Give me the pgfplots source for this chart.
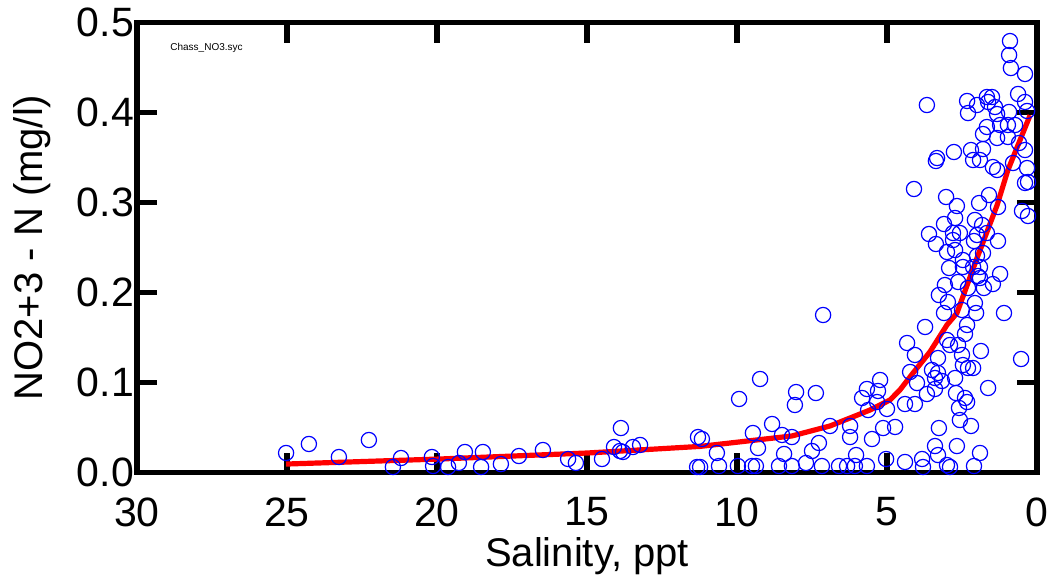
\documentclass[border=0pt]{standalone}
\usepackage{fontspec}
\setmainfont{Liberation Sans}
\usepackage{pgfplots}
\pgfplotsset{compat=1.18}
\begin{document}
\begin{tikzpicture}
\begin{axis}[
  at={(0,0)}, anchor=south west,
  scale only axis, width=450pt, height=225pt,
  x dir=reverse,
  xmin=0, xmax=30, ymin=0, ymax=0.5,
  xtick={0,5,...,30}, ytick={0,0.1,...,0.5},
  yticklabel style={/pgf/number format/fixed, /pgf/number format/fixed zerofill, /pgf/number format/precision=1, xshift=2pt},
  /pgf/number format/assume math mode=true,
  tick align=inside, xtick pos=both, ytick pos=both,
  major tick length=10pt,
  every tick/.style={black, line width=2.8pt},
  axis line style={line width=2.6pt},
  tick label style={font=\fontsize{20.5}{24}\selectfont},
  xticklabel style={yshift=-9pt},
  label style={font=\fontsize{20}{24}\selectfont},
  xlabel={Salinity, ppt},
  ylabel={NO2+3 - N (mg/l)},
  xlabel style={yshift=1.5pt},
  ylabel style={yshift=6pt},
  clip=false,
]
\addplot[only marks, mark=o, mark size=3.8pt, blue, mark options={line width=0.6pt}] table {
x y
25.03 0.0217
24.27 0.0317
23.27 0.0172
22.27 0.0361
21.20 0.0161
21.47 0.0061
20.17 0.0172
20.13 0.0072
19.63 0.0061
19.27 0.0106
19.07 0.0228
18.53 0.0061
18.47 0.0228
17.87 0.0094
17.27 0.0183
16.47 0.0250
15.63 0.0150
15.37 0.0106
14.50 0.0150
14.10 0.0283
13.87 0.0494
13.90 0.0239
13.80 0.0228
13.47 0.0283
13.23 0.0306
11.30 0.0394
11.17 0.0372
11.33 0.0061
11.23 0.0061
7.13 0.175
9.23 0.1039
9.93 0.0817
8.03 0.0894
8.07 0.0750
7.37 0.0883
5.23 0.1028
5.67 0.0928
5.83 0.0828
5.30 0.0906
5.33 0.0783
5.63 0.0694
8.83 0.0539
9.47 0.0439
8.50 0.0417
8.17 0.0394
6.90 0.0517
6.23 0.0517
6.23 0.0394
5.50 0.0372
5.13 0.0494
9.30 0.0272
10.67 0.0217
7.27 0.0328
7.50 0.0239
8.43 0.0206
6.03 0.0194
10.60 0.0072
9.97 0.0072
9.50 0.0072
9.37 0.0072
8.60 0.0072
8.17 0.0072
7.70 0.0106
7.17 0.0072
6.60 0.0072
6.33 0.0072
6.07 0.0072
5.67 0.0072
5.03 0.0150
0.90 0.4794
0.93 0.4639
0.87 0.4494
0.40 0.4428
3.67 0.4083
2.33 0.4128
2.00 0.4083
2.30 0.3994
1.67 0.4172
1.50 0.4172
1.63 0.4117
1.40 0.4061
1.33 0.3983
0.93 0.4006
0.63 0.4206
0.40 0.4117
0.33 0.4017
1.67 0.3839
1.80 0.3761
1.33 0.3717
1.23 0.3861
0.97 0.3861
0.73 0.3861
0.97 0.3728
0.60 0.3661
2.77 0.3561
3.33 0.3494
3.37 0.3461
2.20 0.3583
2.13 0.3472
1.90 0.3472
1.80 0.3594
1.47 0.3394
1.33 0.3361
0.80 0.3439
0.40 0.3583
0.33 0.3383
0.40 0.3217
0.30 0.3228
4.10 0.3150
3.03 0.3061
2.67 0.2961
2.73 0.2828
3.10 0.2761
3.60 0.2650
3.37 0.2539
2.80 0.2661
2.57 0.2661
2.80 0.2583
2.73 0.2472
3.00 0.2450
2.07 0.2806
1.93 0.2994
1.60 0.3083
1.30 0.2950
1.83 0.2750
1.67 0.2661
2.00 0.2639
2.10 0.2572
1.80 0.2439
2.00 0.2406
1.30 0.2572
2.47 0.2361
2.47 0.2283
2.93 0.2272
2.13 0.2283
1.90 0.2283
1.97 0.2183
1.90 0.2161
1.23 0.2206
2.63 0.2117
2.30 0.2050
3.07 0.2083
3.27 0.1972
2.97 0.1894
1.77 0.2050
1.47 0.2094
3.10 0.1772
2.50 0.1806
2.07 0.1883
2.03 0.1772
1.10 0.1772
0.50 0.2906
0.30 0.2850
3.73 0.1617
4.33 0.1439
4.07 0.1306
3.00 0.1472
2.90 0.1417
2.63 0.1417
2.40 0.1539
2.33 0.1639
1.87 0.1350
2.50 0.1306
3.30 0.1272
2.47 0.1194
2.30 0.1161
2.13 0.1161
3.50 0.1139
3.30 0.1106
3.40 0.1050
3.17 0.1017
2.73 0.1050
4.23 0.1117
4.00 0.0994
3.67 0.0872
3.40 0.0928
2.70 0.0883
1.63 0.0939
0.53 0.1261
2.40 0.0828
2.33 0.0783
2.60 0.0717
4.40 0.0761
4.07 0.0761
5.00 0.0706
2.57 0.0583
2.20 0.0517
3.27 0.0494
4.73 0.0506
3.40 0.0294
3.30 0.0194
2.67 0.0294
1.90 0.0217
4.40 0.0117
3.83 0.0150
3.80 0.0061
3.00 0.0083
2.90 0.0061
2.10 0.0072
};
\addplot[red, line width=2.6pt] table {
x y
25.03 0.0094
19.90 0.0150
14.97 0.0217
11.23 0.0290
8.17 0.0406
6.90 0.0517
6.23 0.0606
5.57 0.0694
4.90 0.0806
4.57 0.0917
4.13 0.1106
3.57 0.1340
3.00 0.1640
2.67 0.1770
2.00 0.2383
1.33 0.2970
0.97 0.3360
0.23 0.3970
};
\node[anchor=west, inner sep=0pt, font=\fontsize{5}{6}\selectfont] at (axis cs:28.9,0.4717) {Chass\_NO3.syc};
\end{axis}
\pgfresetboundingbox
\useasboundingbox (-68.5pt,-53.25pt) rectangle (456pt,236.25pt);
\end{tikzpicture}
\end{document}
